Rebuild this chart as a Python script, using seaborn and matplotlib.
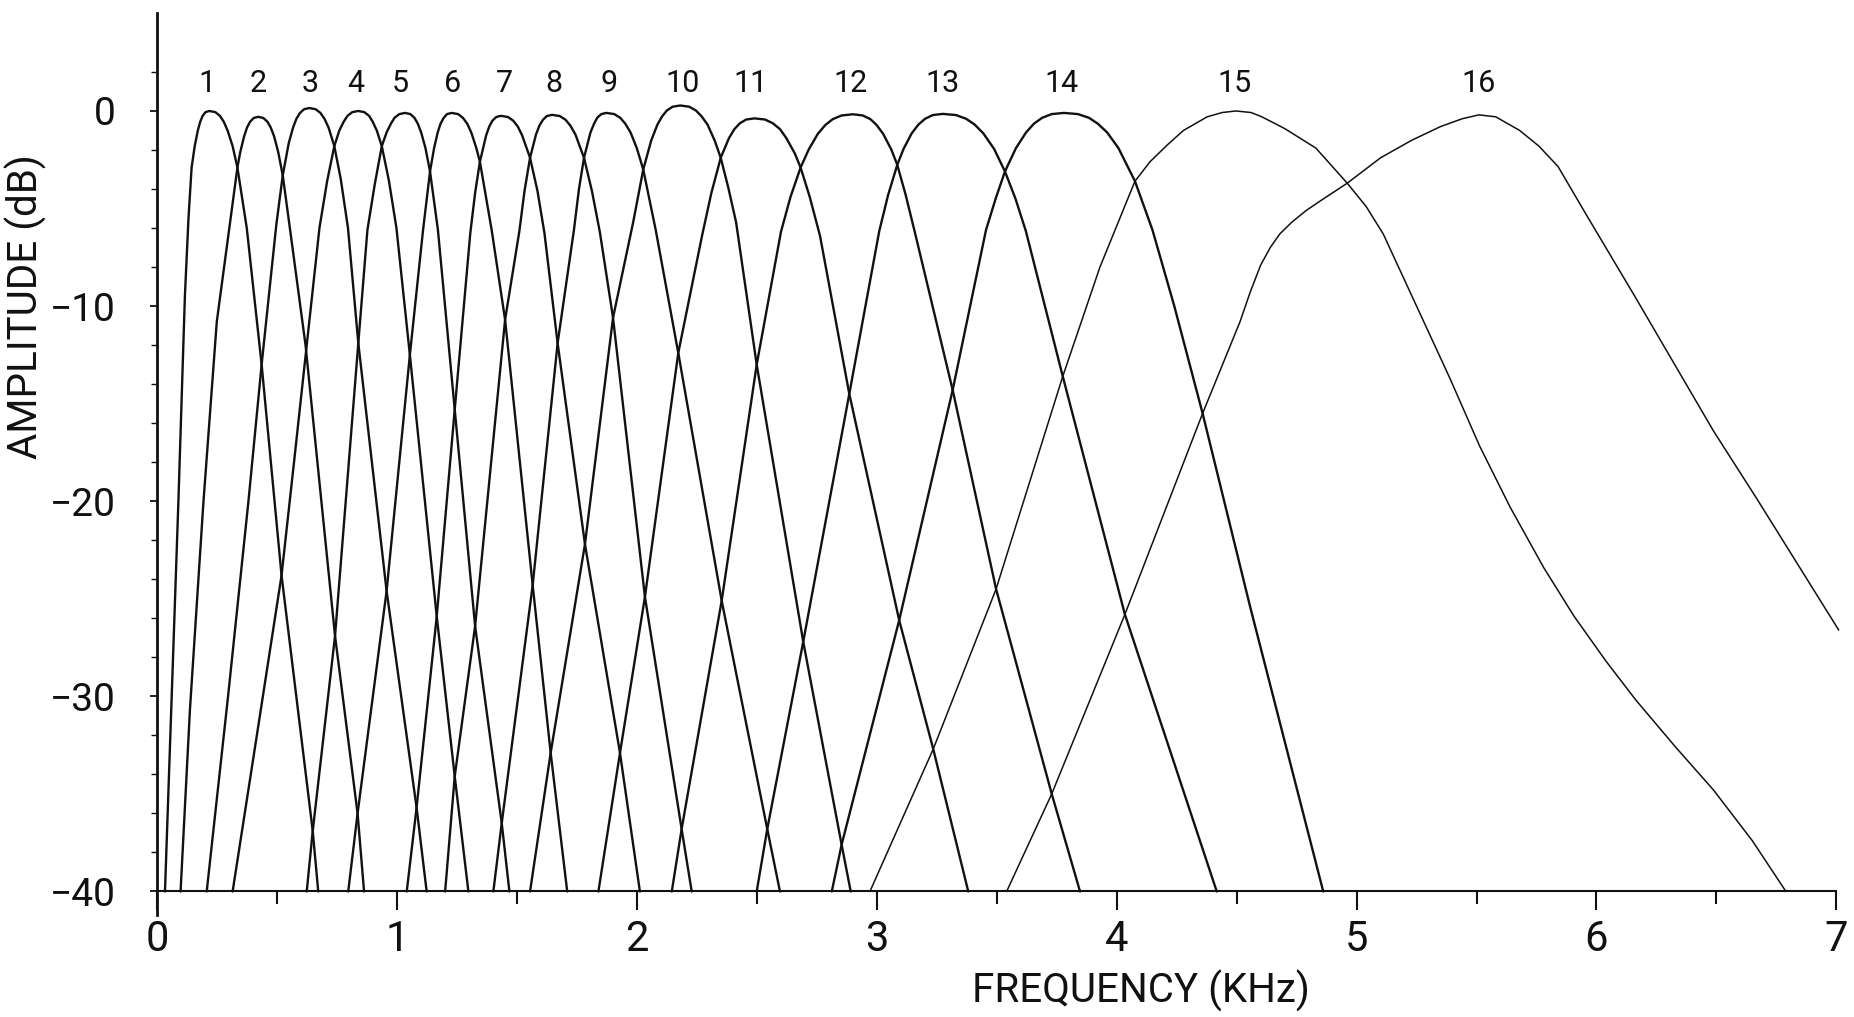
import matplotlib
matplotlib.use("Agg")
import matplotlib.pyplot as plt
from matplotlib import font_manager as fm
from matplotlib.ticker import FixedLocator
import pandas as pd
import seaborn as sns

# Filter-bank magnitude responses: 16 channels, frequency in kHz, amplitude in dB
ch01_khz = [0.032, 0.060, 0.088, 0.115, 0.130, 0.143, 0.156, 0.169, 0.179, 0.189, 0.201, 0.217, 0.242, 0.261, 0.277, 0.293, 0.314, 0.334, 0.373, 0.435, 0.518, 0.648, 0.671]
ch01_db = [-40, -30, -20, -9.5, -5.5, -2.9, -1.8, -1.0, -0.55, -0.25, -0.06, 0.0, -0.06, -0.25, -0.55, -1.0, -1.8, -2.9, -6.0, -13.0, -23.8, -36.9, -40]

ch02_khz = [0.097, 0.136, 0.192, 0.248, 0.297, 0.334, 0.346, 0.362, 0.374, 0.387, 0.402, 0.421, 0.442, 0.459, 0.473, 0.487, 0.504, 0.523, 0.556, 0.618, 0.741, 0.835, 0.862]
ch02_db = [-40, -30.7, -20.1, -10.8, -6.3, -2.9, -2.1, -1.3, -0.85, -0.55, -0.36, -0.3, -0.36, -0.55, -0.85, -1.3, -2.1, -3.3, -6.3, -12.0, -26.9, -36.0, -40]

ch03_khz = [0.206, 0.295, 0.380, 0.435, 0.496, 0.523, 0.548, 0.566, 0.580, 0.595, 0.612, 0.634, 0.660, 0.680, 0.697, 0.714, 0.738, 0.765, 0.795, 0.838, 0.956, 1.081, 1.123]
ch03_db = [-40, -30, -20, -13.0, -5.85, -3.3, -1.65, -0.85, -0.4, -0.1, 0.09, 0.15, 0.09, -0.1, -0.4, -0.85, -1.8, -3.5, -6.0, -11.9, -24.6, -35.7, -40]

ch04_khz = [0.314, 0.415, 0.518, 0.570, 0.623, 0.676, 0.708, 0.738, 0.759, 0.777, 0.793, 0.813, 0.838, 0.863, 0.883, 0.898, 0.915, 0.936, 0.966, 0.997, 1.053, 1.165, 1.240, 1.297]
ch04_db = [-40, -32, -23.8, -18, -12, -6, -3.6, -1.8, -1.0, -0.55, -0.25, -0.06, 0.0, -0.06, -0.25, -0.55, -1.0, -1.8, -3.6, -6.0, -12.5, -25.9, -34.1, -40]

ch05_khz = [0.623, 0.648, 0.741, 0.838, 0.876, 0.906, 0.936, 0.956, 0.974, 0.989, 1.009, 1.033, 1.055, 1.072, 1.086, 1.100, 1.118, 1.137, 1.170, 1.240, 1.325, 1.436, 1.468]
ch05_db = [-40, -36.9, -26.9, -11.9, -6.1, -3.8, -1.8, -1.1, -0.65, -0.35, -0.16, -0.1, -0.16, -0.35, -0.65, -1.1, -1.9, -3.1, -6.1, -15.3, -26.4, -36.5, -40]

ch06_khz = [0.796, 0.835, 0.956, 1.053, 1.108, 1.137, 1.154, 1.169, 1.181, 1.194, 1.208, 1.227, 1.254, 1.274, 1.292, 1.309, 1.330, 1.345, 1.394, 1.450, 1.565, 1.640, 1.709]
ch06_db = [-40, -36, -24.6, -12.5, -6.1, -3.1, -1.9, -1.1, -0.65, -0.35, -0.16, -0.1, -0.16, -0.35, -0.65, -1.1, -1.9, -2.6, -6.1, -10.7, -24.3, -32.9, -40]

ch07_khz = [1.040, 1.081, 1.165, 1.240, 1.305, 1.325, 1.345, 1.371, 1.384, 1.397, 1.413, 1.433, 1.462, 1.484, 1.503, 1.521, 1.554, 1.585, 1.614, 1.669, 1.783, 1.929, 2.012]
ch07_db = [-40, -35.7, -25.9, -15.3, -6.25, -4.2, -2.6, -1.25, -0.8, -0.5, -0.31, -0.25, -0.31, -0.5, -0.8, -1.25, -2.4, -4.1, -6.25, -11.9, -22.2, -32.9, -40]

ch08_khz = [1.200, 1.240, 1.325, 1.450, 1.509, 1.531, 1.554, 1.579, 1.593, 1.608, 1.624, 1.646, 1.678, 1.702, 1.722, 1.743, 1.779, 1.812, 1.845, 1.900, 2.033, 2.186, 2.228]
ch08_db = [-40, -34.1, -26.4, -10.7, -6.2, -4.1, -2.4, -1.2, -0.75, -0.45, -0.26, -0.2, -0.26, -0.45, -0.75, -1.2, -2.4, -4.1, -6.2, -10.6, -24.9, -36.8, -40]

ch09_khz = [1.401, 1.436, 1.565, 1.669, 1.737, 1.758, 1.779, 1.806, 1.821, 1.834, 1.851, 1.872, 1.905, 1.930, 1.951, 1.973, 1.999, 2.026, 2.078, 2.172, 2.353, 2.543, 2.596]
ch09_db = [-40, -36.5, -24.3, -11.9, -6.1, -4.0, -2.4, -1.1, -0.65, -0.35, -0.16, -0.1, -0.16, -0.35, -0.65, -1.1, -1.9, -3.0, -6.1, -12.4, -25.1, -36.8, -40]

ch10_khz = [1.554, 1.640, 1.783, 1.900, 1.984, 2.026, 2.059, 2.085, 2.105, 2.125, 2.149, 2.180, 2.217, 2.245, 2.269, 2.294, 2.324, 2.349, 2.380, 2.413, 2.499, 2.693, 2.853, 2.891]
ch10_db = [-40, -32.9, -22.2, -10.6, -5.7, -3.0, -1.52, -0.7, -0.27, 0.03, 0.22, 0.28, 0.22, 0.03, -0.27, -0.7, -1.52, -2.4, -3.9, -5.7, -13.0, -27.2, -37.6, -40]

ch11_khz = [1.839, 1.929, 2.033, 2.172, 2.271, 2.310, 2.349, 2.383, 2.406, 2.429, 2.455, 2.490, 2.534, 2.566, 2.596, 2.623, 2.658, 2.682, 2.720, 2.763, 2.885, 3.093, 3.235, 3.381]
ch11_db = [-40, -32.9, -24.9, -12.4, -6.4, -4.2, -2.4, -1.4, -0.93, -0.63, -0.44, -0.38, -0.44, -0.63, -0.93, -1.4, -2.18, -2.9, -4.4, -6.4, -14.5, -26.1, -32.7, -40]

ch12_khz = [2.145, 2.186, 2.353, 2.499, 2.600, 2.640, 2.682, 2.716, 2.754, 2.785, 2.816, 2.853, 2.900, 2.941, 2.973, 2.999, 3.026, 3.060, 3.085, 3.120, 3.158, 3.316, 3.497, 3.729, 3.847]
ch12_db = [-40, -36.8, -25.1, -13.0, -6.2, -4.4, -2.9, -1.97, -1.17, -0.72, -0.42, -0.23, -0.17, -0.23, -0.42, -0.72, -1.17, -1.97, -2.76, -4.3, -6.2, -14.3, -24.5, -35.0, -40]

ch13_khz = [2.499, 2.543, 2.693, 2.885, 3.010, 3.047, 3.085, 3.111, 3.145, 3.173, 3.201, 3.233, 3.275, 3.330, 3.372, 3.408, 3.444, 3.489, 3.534, 3.578, 3.621, 3.775, 4.034, 4.417]
ch13_db = [-40, -36.8, -27.2, -14.5, -6.15, -4.3, -2.76, -1.95, -1.15, -0.7, -0.4, -0.21, -0.15, -0.21, -0.4, -0.7, -1.15, -1.95, -3.1, -4.5, -6.15, -13.6, -25.8, -40]

ch14_khz = [2.812, 2.853, 3.093, 3.316, 3.455, 3.495, 3.534, 3.580, 3.622, 3.655, 3.689, 3.729, 3.780, 3.838, 3.884, 3.921, 3.960, 4.007, 4.076, 4.149, 4.240, 4.358, 4.556, 4.861]
ch14_db = [-40, -37.6, -26.1, -14.3, -6.1, -4.5, -3.1, -1.9, -1.1, -0.65, -0.35, -0.16, -0.1, -0.16, -0.35, -0.65, -1.1, -1.9, -3.6, -6.1, -10.0, -15.5, -25.4, -40]

ch15_khz = [2.971, 3.235, 3.497, 3.775, 3.930, 4.076, 4.139, 4.210, 4.278, 4.377, 4.440, 4.497, 4.560, 4.605, 4.700, 4.830, 4.961, 5.040, 5.111, 5.250, 5.389, 5.514, 5.640, 5.780, 5.907, 6.040, 6.165, 6.330, 6.488, 6.650, 6.790]
ch15_db = [-40, -32.7, -24.5, -13.6, -8.0, -3.6, -2.6, -1.75, -1.0, -0.3, -0.08, 0.0, -0.08, -0.3, -0.9, -1.9, -3.7, -4.9, -6.3, -10.0, -13.7, -17.2, -20.3, -23.4, -25.9, -28.2, -30.2, -32.6, -34.8, -37.4, -40]

ch16_khz = [3.541, 3.729, 4.034, 4.358, 4.514, 4.556, 4.600, 4.640, 4.680, 4.730, 4.790, 4.850, 4.961, 5.100, 5.230, 5.350, 5.440, 5.510, 5.580, 5.680, 5.760, 5.840, 5.952, 6.160, 6.488, 6.670, 7.010]
ch16_db = [-40, -35.0, -25.8, -15.5, -10.8, -9.3, -7.9, -7.0, -6.3, -5.7, -5.1, -4.6, -3.7, -2.4, -1.5, -0.8, -0.4, -0.2, -0.3, -1.0, -1.8, -2.85, -5.2, -9.5, -16.4, -19.9, -26.6]

channel_labels = ["1", "2", "3", "4", "5", "6", "7", "8", "9", "10", "11", "12", "13", "14", "15", "16"]
label_khz = [0.206, 0.420, 0.637, 0.828, 1.014, 1.233, 1.447, 1.652, 1.885, 2.192, 2.473, 2.892, 3.273, 3.770, 4.492, 5.510]

y_major = [0, -10, -20, -30, -40]
y_tick_labels = ["0", "\u221210", "\u221220", "\u221230", "\u221240"]
x_major = [0, 1, 2, 3, 4, 5, 6, 7]
x_tick_labels = ["0", "1", "2", "3", "4", "5", "6", "7"]

channels_khz = [ch01_khz, ch02_khz, ch03_khz, ch04_khz, ch05_khz, ch06_khz, ch07_khz, ch08_khz,
                ch09_khz, ch10_khz, ch11_khz, ch12_khz, ch13_khz, ch14_khz, ch15_khz, ch16_khz]
channels_db = [ch01_db, ch02_db, ch03_db, ch04_db, ch05_db, ch06_db, ch07_db, ch08_db,
               ch09_db, ch10_db, ch11_db, ch12_db, ch13_db, ch14_db, ch15_db, ch16_db]

frames = []
for name, khz, db in zip(channel_labels, channels_khz, channels_db):
    frames.append(pd.DataFrame({"channel": name, "khz": khz, "db": db}))
responses = pd.concat(frames, ignore_index=True)

sns.set_theme(style="white")
available = {f.name for f in fm.fontManager.ttflist}
family = "Roboto" if "Roboto" in available else "DejaVu Sans"
plt.rcParams["font.family"] = [family, "DejaVu Sans"]
plt.rcParams["axes.unicode_minus"] = True

INK = "#111111"
W, H = 1854, 1017
fig = plt.figure(figsize=(W / 100, H / 100), dpi=100)
fig.patch.set_facecolor("white")
ax = fig.add_axes([157.3 / W, 102.1 / H, 1691 / W, 901.5 / H])
ax.set_facecolor("white")

for name in channel_labels:
    lw = 1.1 if name in ("15", "16") else 1.7
    sns.lineplot(data=responses[responses["channel"] == name], x="khz", y="db",
                 sort=False, estimator=None, color=INK, linewidth=lw,
                 legend=False, ax=ax)

for text, xk in zip(channel_labels, label_khz):
    ax.text(xk, 0.97, text, ha="center", va="baseline", fontsize=22, color=INK)

ax.set_xlim(0, 7.05)
ax.set_ylim(-41.2, 5.0)

for side in ("top", "right"):
    ax.spines[side].set_visible(False)
ax.spines["left"].set_color(INK)
ax.spines["left"].set_linewidth(2.0)
ax.spines["bottom"].set_color(INK)
ax.spines["bottom"].set_linewidth(1.5)
ax.spines["bottom"].set_position(("data", -40))
ax.spines["bottom"].set_bounds(0, 7)

ax.set_xticks(x_major)
ax.set_xticklabels(x_tick_labels)
ax.xaxis.set_minor_locator(FixedLocator([0.5, 1.5, 2.5, 3.5, 4.5, 5.5, 6.5]))
ax.set_yticks(y_major)
ax.set_yticklabels(y_tick_labels)
ax.yaxis.set_minor_locator(FixedLocator([v for v in range(-38, 4, 2) if v % 10 != 0]))

ax.tick_params(axis="x", which="major", direction="out", length=13.5, width=1.5,
               color=INK, labelsize=30, pad=6, labelcolor=INK)
ax.tick_params(axis="x", which="minor", direction="out", length=9.5, width=1.5,
               color=INK)
ax.tick_params(axis="y", which="major", direction="out", length=5, width=1.3,
               color=INK, labelsize=28, pad=25, labelcolor=INK)
ax.tick_params(axis="y", which="minor", direction="out", length=4, width=1.0,
               color=INK)
ax.tick_params(left=True, bottom=True, which="both")

ax.set_xlabel("FREQUENCY (KHz)", fontsize=29, color=INK)
ax.xaxis.set_label_coords((1141 - 157.3) / 1691, (914.9 - 991) / 901.5)
ax.xaxis.label.set_verticalalignment("center")
ax.xaxis.label.set_horizontalalignment("center")

ax.set_ylabel("AMPLITUDE (dB)", fontsize=29, color=INK)
ax.yaxis.set_label_coords((26 - 157.3) / 1691, (914.9 - 307) / 901.5)
ax.yaxis.label.set_verticalalignment("center")
ax.yaxis.label.set_horizontalalignment("center")

fig.savefig("out.png", dpi=100, facecolor="white")
